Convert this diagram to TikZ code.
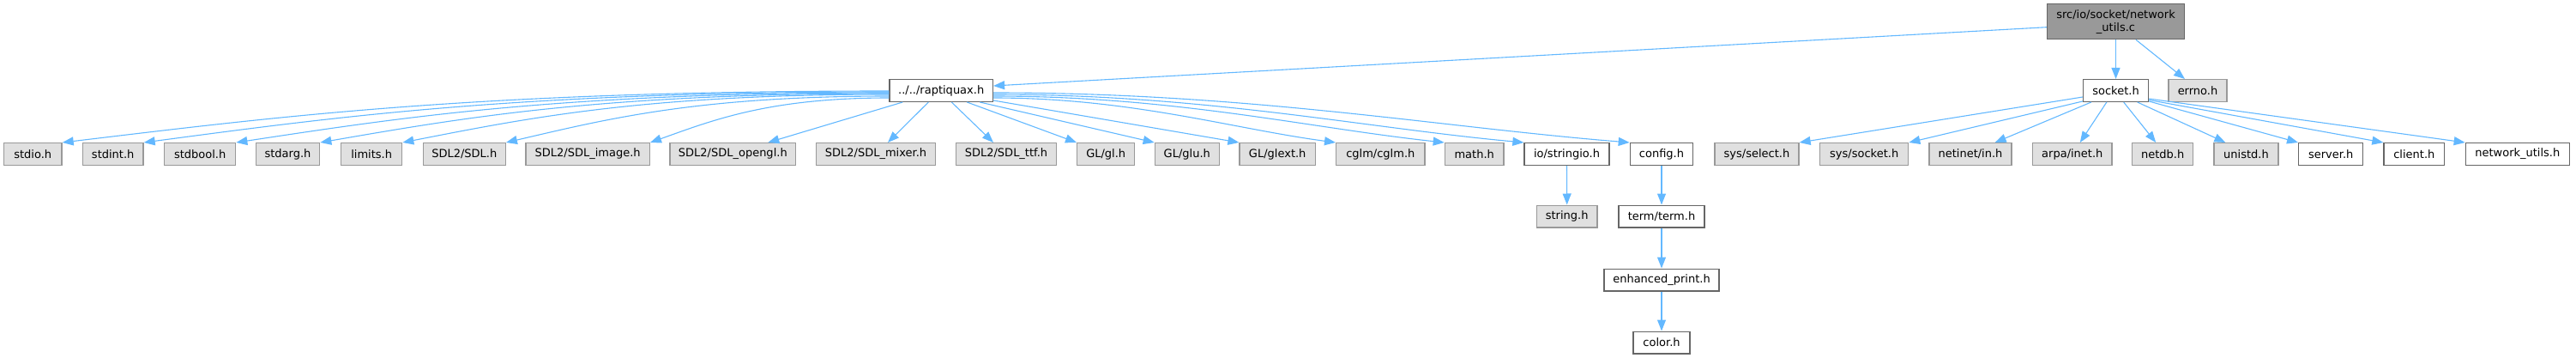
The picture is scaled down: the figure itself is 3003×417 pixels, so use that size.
\documentclass[tikz,border=0pt]{standalone}
\usepackage{fontspec}
\setmainfont{DejaVu Sans}
\usetikzlibrary{arrows.meta}
\definecolor{edgeblue}{HTML}{63B8FF}
\definecolor{greyfill}{HTML}{E0E0E0}
\definecolor{greyline}{HTML}{999999}
\definecolor{darkline}{HTML}{666666}
\definecolor{rootfill}{HTML}{999999}
\begin{document}
\begin{tikzpicture}[x=1pt,y=-1pt,
  base/.style={rectangle, inner sep=0pt, minimum height=25.7pt, line width=1.3pt,
    font=\fontsize{13}{15}\selectfont, text=black},
  gbox/.style={base, draw=greyline, fill=greyfill},
  wbox/.style={base, draw=darkline, fill=white},
  rootbox/.style={base, draw=darkline, fill=rootfill, minimum height=41pt, align=center},
  edge/.style={draw=edgeblue, line width=1.1pt, -{Triangle[length=13pt,width=10pt]}, color=edgeblue}
]
\useasboundingbox (0,0) rectangle (3003,417);
% root and row 1
\node[rootbox, minimum width=160pt] (root) at (2466.5,25.2) {src/io/socket/network\\\_utils.c};
\node[wbox, minimum width=120.5pt] (rap) at (1097.2,105.5) {../../raptiquax.h};
\node[wbox, minimum width=76pt] (sock) at (2466.5,105.5) {socket.h};
\node[gbox, minimum width=68pt] (errno) at (2562,105.5) {errno.h};
% row 2
\node[gbox, minimum width=67.7pt] (stdio) at (38.2,179.5) {stdio.h};
\node[gbox, minimum width=70.7pt] (stdint) at (131.7,179.5) {stdint.h};
\node[gbox, minimum width=83pt] (stdbool) at (233.2,179.5) {stdbool.h};
\node[gbox, minimum width=74.4pt] (stdarg) at (335.5,179.5) {stdarg.h};
\node[gbox, minimum width=71pt] (limits) at (433.2,179.5) {limits.h};
\node[gbox, minimum width=96pt] (sdl) at (541.3,179.5) {SDL2/SDL.h};
\node[gbox, minimum width=144.3pt] (sdlimage) at (685.2,179.5) {SDL2/SDL\_image.h};
\node[gbox, minimum width=146.7pt] (sdlopengl) at (854.3,179.5) {SDL2/SDL\_opengl.h};
\node[gbox, minimum width=139.4pt] (sdlmixer) at (1021,179.5) {SDL2/SDL\_mixer.h};
\node[gbox, minimum width=117.4pt] (sdlttf) at (1173,179.5) {SDL2/SDL\_ttf.h};
\node[gbox, minimum width=67pt] (gl) at (1289.2,179.5) {GL/gl.h};
\node[gbox, minimum width=75pt] (glu) at (1383.8,179.5) {GL/glu.h};
\node[gbox, minimum width=88.3pt] (glext) at (1489.2,179.5) {GL/glext.h};
\node[gbox, minimum width=103.3pt] (cglm) at (1609.3,179.5) {cglm/cglm.h};
\node[gbox, minimum width=68.7pt] (math) at (1718.7,179.5) {math.h};
\node[wbox, minimum width=99pt] (stringio) at (1826.5,179.5) {io/stringio.h};
\node[wbox, minimum width=73.4pt] (config) at (1937,179.5) {config.h};
\node[gbox, minimum width=98pt] (select) at (2048,179.5) {sys/select.h};
\node[gbox, minimum width=103pt] (syssock) at (2173.2,179.5) {sys/socket.h};
\node[gbox, minimum width=96pt] (netinet) at (2297,179.5) {netinet/in.h};
\node[gbox, minimum width=92.3pt] (arpa) at (2415.8,179.5) {arpa/inet.h};
\node[gbox, minimum width=71pt] (netdb) at (2521.2,179.5) {netdb.h};
\node[gbox, minimum width=75pt] (unistd) at (2618.5,179.5) {unistd.h};
\node[wbox, minimum width=75pt] (server) at (2717.2,179.5) {server.h};
\node[wbox, minimum width=70.7pt] (client) at (2814.3,179.5) {client.h};
\node[wbox, minimum width=121pt] (netutils) at (2934.8,179.5) {network\_utils.h};
% rows 3-5
\node[gbox, minimum width=70.5pt] (string) at (1826.7,252) {string.h};
\node[wbox, minimum width=100pt] (term) at (1937,252) {term/term.h};
\node[wbox, minimum width=134pt] (enh) at (1937,326) {enhanced\_print.h};
\node[wbox, minimum width=66pt] (color) at (1937,399) {color.h};
% root edges
\draw[edge] ([yshift=-6.5pt]root.west) -- ([yshift=5.5pt]rap.east);
\draw[edge] (root.south) -- (sock.north);
\draw[edge] ([xshift=23.5pt]root.south) -- ([xshift=-15pt]errno.north);
% raptiquax edges, left
\draw[edge] ([yshift=-0.5pt]rap.west) .. controls +(-482,0) and +(251,-30) .. (stdio.north east);
\draw[edge] ([yshift=-1.5pt]rap.west) .. controls +(-434,0) and +(226,-30) .. (stdint.north east);
\draw[edge] ([yshift=-2.5pt]rap.west) .. controls +(-381,0) and +(198,-30) .. (stdbool.north east);
\draw[edge] ([yshift=-3.5pt]rap.west) .. controls +(-332,0) and +(173,-30) .. (stdarg.north east);
\draw[edge] ([yshift=-4.5pt]rap.west) .. controls +(-284,0) and +(148,-29) .. (limits.north east);
\draw[edge] ([yshift=-6.5pt]rap.west) .. controls +(-224,0) and +(116,-27) .. (sdl.north east);
\draw[edge] ([yshift=-8.5pt]rap.west) .. controls +(-140,0) and +(73,-26) .. (sdlimage.north east);
\draw[edge] ([xshift=16pt]rap.south west) -- ([xshift=-33pt]sdlopengl.north east);
\draw[edge] ([xshift=46pt]rap.south west) -- ([xshift=14pt]sdlmixer.north);
\draw[edge] ([xshift=73pt]rap.south west) -- ([xshift=-15pt]sdlttf.north);
\draw[edge] ([xshift=91pt]rap.south west) -- (gl.north west);
\draw[edge] ([xshift=106pt]rap.south west) -- (glu.north west);
\draw[edge] ([yshift=2pt]rap.south east) -- (glext.north west);
% raptiquax edges, right
\draw[edge] ([yshift=-8.5pt]rap.east) .. controls +(160,0) and +(-120,-16) .. (cglm.north west);
\draw[edge] ([yshift=-6.5pt]rap.east) .. controls +(211,0) and +(-158,-17) .. (math.north west);
\draw[edge] ([yshift=-4.5pt]rap.east) .. controls +(248,0) and +(-186,-17) .. (stringio.north west);
\draw[edge] ([yshift=-2.5pt]rap.east) .. controls +(297,0) and +(-223,-18) .. (config.north west);
% socket edges
\draw[edge] ([yshift=-7.5pt]sock.west) -- (select.north east);
\draw[edge] ([yshift=1pt]sock.south west) -- (syssock.north east);
\draw[edge] ([xshift=10pt]sock.south west) -- ([xshift=-20pt]netinet.north east);
\draw[edge] ([xshift=28pt]sock.south west) -- ([xshift=9pt]arpa.north);
\draw[edge] ([xshift=-29.5pt]sock.south east) -- ([xshift=-8pt]netdb.north);
\draw[edge] ([xshift=-13.5pt]sock.south east) -- ([xshift=14pt]unistd.north west);
\draw[edge] ([yshift=1pt]sock.south east) -- (server.north west);
\draw[edge] ([yshift=2.5pt]sock.south east) -- (client.north west);
\draw[edge] ([yshift=-9.5pt]sock.east) -- (netutils.north west);
% vertical chain
\draw[edge] (stringio.south) -- (string.north);
\draw[edge] (config.south) -- (term.north);
\draw[edge] (term.south) -- (enh.north);
\draw[edge] (enh.south) -- (color.north);
\end{tikzpicture}
\end{document}
